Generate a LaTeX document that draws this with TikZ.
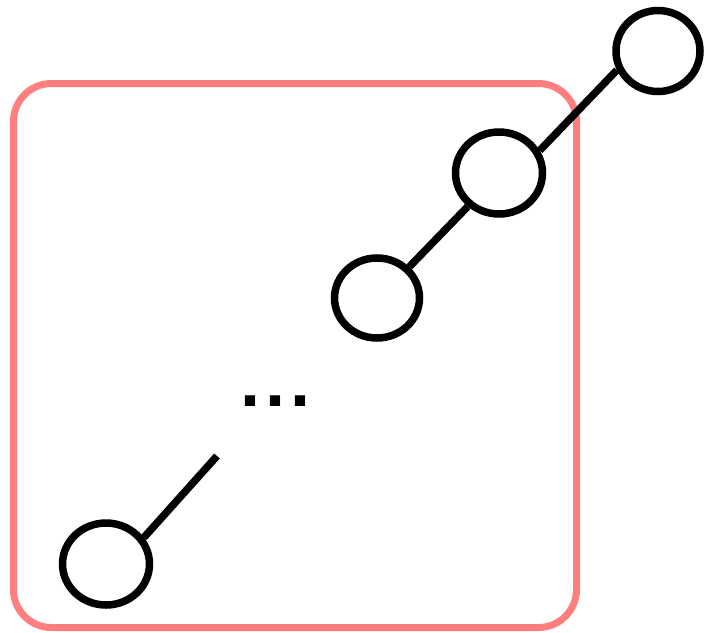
\documentclass[tikz,border=0pt]{standalone}
\usepackage{fontspec}
\newfontfamily\dotsfont{Liberation Sans}
\usetikzlibrary{shapes.geometric}
\definecolor{salmon}{HTML}{FF7F7F}
\begin{document}
\begin{tikzpicture}[x=1pt,y=-1pt,
  ringnode/.style={draw=black,line width=7.5pt,ellipse,inner sep=0pt,minimum width=87pt,minimum height=82pt},
  link/.style={draw=black,line width=7.5pt},
  frame/.style={draw=salmon,line width=7pt,rounded corners=38pt}]
\useasboundingbox (0,0) rectangle (704,632);
\draw[frame] (13.5,83.5) rectangle (576.5,627.5);
\node[ringnode,minimum width=84pt,minimum height=81pt] (n4) at (658,51) {};
\node[ringnode] (n3) at (499,173) {};
\node[ringnode,minimum width=85pt,minimum height=80pt] (n2) at (377,298) {};
\node[ringnode] (n1) at (106,564) {};
\coordinate (free) at (217,456);
\node[font=\dotsfont\bfseries\fontsize{72}{72}\selectfont,inner sep=0pt,anchor=base] (dots) at (276,406) {.\kern5pt.\kern5pt.};
\draw[link] (n4.205) -- (n3.29);
\draw[link] (n3.227) -- (n2.44);
\draw[link] (n1.35) -- (free);
\end{tikzpicture}
\end{document}
